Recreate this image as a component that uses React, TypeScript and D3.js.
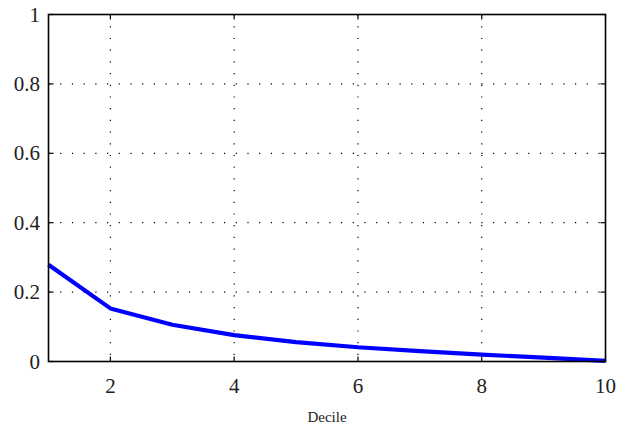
import React from "react";
import * as d3 from "d3";

const deciles = [1, 2, 3, 4, 5, 6, 7, 8, 9, 10];
const values = [0.279, 0.153, 0.106, 0.076, 0.056, 0.041, 0.030, 0.020, 0.011, 0.002];
const xTicks = [2, 4, 6, 8, 10];
const yTicks = [0, 0.2, 0.4, 0.6, 0.8, 1];
const xLabel = "Decile";

export default function App() {
  const W = 634, H = 426;
  const left = 48.5, right = 605.5, top = 14.5, bottom = 361.5;
  const x = d3.scaleLinear().domain([1, 10]).range([left, right]);
  const y = d3.scaleLinear().domain([0, 1]).range([bottom, top]);
  const line = d3.line<number>().x((_, i) => x(deciles[i])).y((d) => y(d));
  const fontStyle = { fontFamily: "Liberation Serif, DejaVu Serif, serif" };
  const tl = 5;
  return (
    <svg width={W} height={H} style={{ position: "absolute", left: 0, top: 0, background: "#fff" }}>
      <rect x={0} y={0} width={W} height={H} fill="#fff" />
      {xTicks.filter((t) => t !== 10).map((t) => (
        <line key={"gx" + t} x1={x(t)} x2={x(t)} y1={top} y2={bottom} stroke="#000" strokeWidth={1.2} strokeDasharray="1.2,10.5" />
      ))}
      {yTicks.filter((t) => t !== 0 && t !== 1).map((t) => (
        <line key={"gy" + t} x1={left} x2={right} y1={y(t)} y2={y(t)} stroke="#000" strokeWidth={1.2} strokeDasharray="1.2,10.5" />
      ))}
      <path d={line(values) || ""} fill="none" stroke="#0000ff" strokeWidth={4.2} strokeLinejoin="round" />
      <rect x={left} y={top} width={right - left} height={bottom - top} fill="none" stroke="#000" strokeWidth={1.6} />
      {xTicks.map((t) => (
        <g key={"tx" + t}>
          <line x1={x(t)} x2={x(t)} y1={bottom} y2={bottom - tl} stroke="#000" strokeWidth={1.2} />
          <line x1={x(t)} x2={x(t)} y1={top} y2={top + tl} stroke="#000" strokeWidth={1.2} />
          <text x={x(t)} y={393} textAnchor="middle" style={fontStyle} fontSize={21} fill="#222">{t}</text>
        </g>
      ))}
      {yTicks.map((t) => (
        <g key={"ty" + t}>
          <line x1={left} x2={left + tl} y1={y(t)} y2={y(t)} stroke="#000" strokeWidth={1.2} />
          <line x1={right} x2={right - tl} y1={y(t)} y2={y(t)} stroke="#000" strokeWidth={1.2} />
          <text x={40} y={y(t) + 7} textAnchor="end" style={fontStyle} fontSize={21} fill="#222">{d3.format("~g")(t)}</text>
        </g>
      ))}
      <text x={(left + right) / 2} y={422} textAnchor="middle" style={fontStyle} fontSize={15} fill="#222">{xLabel}</text>
    </svg>
  );
}
